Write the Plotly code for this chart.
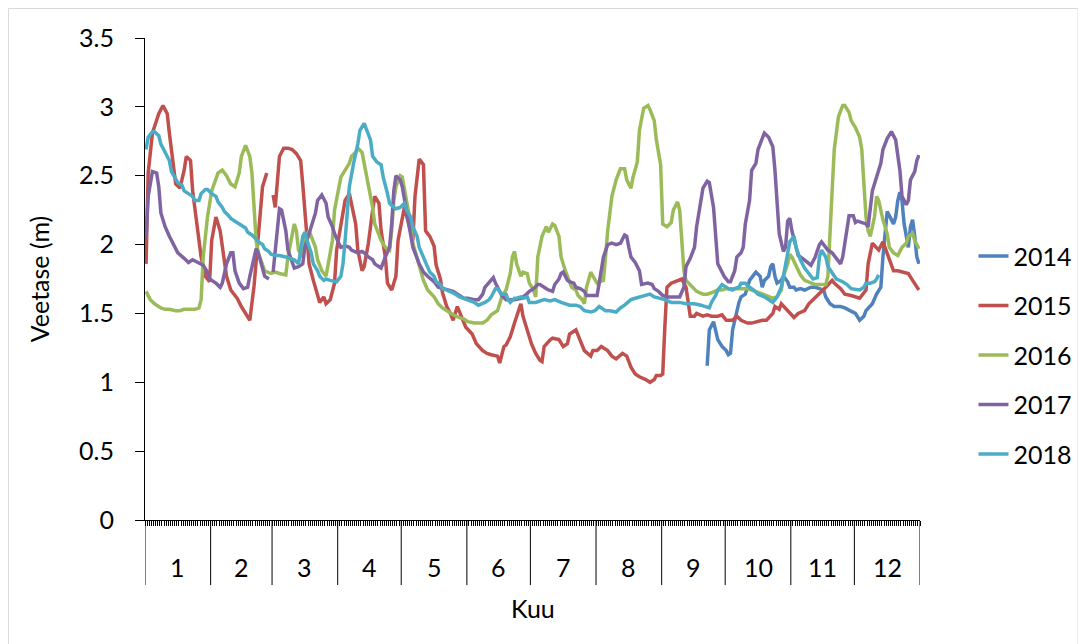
import plotly.graph_objects as go

# day of year (leap-year template, 366 days) and water level in metres
days_2014 = [266, 267, 269, 270, 271, 273, 275, 276, 277, 278, 280, 281, 282, 284, 285, 286, 288, 289,
             291, 292, 293, 295, 296, 297, 298, 299, 301, 302, 304, 305, 307, 308, 310, 312, 315, 317,
             319, 321, 322, 324, 326, 329, 331, 334, 336, 338, 340, 341, 344, 346, 348, 349, 350, 351,
             352, 354, 355, 356, 357, 358, 359, 361, 362, 363, 364, 365, 366]
level_2014 = [1.12, 1.38, 1.44, 1.38, 1.31, 1.26, 1.23, 1.20, 1.21, 1.38, 1.52, 1.58, 1.62, 1.64, 1.69,
              1.74, 1.78, 1.80, 1.77, 1.69, 1.74, 1.77, 1.84, 1.86, 1.77, 1.72, 1.74, 1.77, 1.73, 1.69,
              1.69, 1.67, 1.68, 1.67, 1.69, 1.69, 1.68, 1.67, 1.62, 1.57, 1.55, 1.55, 1.54, 1.52, 1.50,
              1.45, 1.48, 1.52, 1.57, 1.64, 1.69, 1.91, 2.10, 2.24, 2.21, 2.15, 2.20, 2.32, 2.38, 2.32,
              2.15, 1.98, 2.13, 2.18, 2.06, 1.91, 1.86]

days_2015 = [1, 2, 4, 7, 9, 11, 12, 14, 15, 17, 19, 20, 22, 23, 25, 27, 29, 31, 32, 34, 36, 37, 39, 41,
             44, 46, 48, 50, 52, 54, 56, 58, 59, 61, 62, 64, 66, 68, 70, 72, 74, 75, 77, 78, 80, 82, 83,
             85, 86, 88, 90, 91, 93, 95, 97, 98, 100, 101, 103, 104, 106, 108, 109, 111, 112, 114, 115,
             117, 119, 120, 122, 123, 125, 127, 128, 130, 132, 133, 135, 137, 138, 140, 141, 143, 145,
             146, 148, 150, 152, 155, 157, 160, 162, 164, 167, 168, 170, 171, 173, 175, 178, 179, 181,
             183, 185, 187, 188, 189, 192, 193, 196, 198, 200, 201, 204, 206, 208, 211, 212, 214, 216,
             219, 221, 223, 226, 228, 230, 232, 234, 237, 239, 241, 242, 244, 245, 246, 247, 249, 252,
             254, 256, 257, 258, 260, 261, 264, 266, 268, 271, 273, 275, 278, 280, 282, 285, 287, 289,
             292, 294, 297, 298, 300, 301, 304, 306, 307, 309, 312, 314, 316, 319, 321, 322, 325, 326,
             329, 331, 334, 336, 338, 341, 342, 344, 346, 347, 349, 350, 352, 354, 356, 359, 361, 363, 366]
level_2015 = [1.86, 2.52, 2.81, 2.95, 3.01, 2.95, 2.81, 2.56, 2.44, 2.41, 2.54, 2.64, 2.61, 2.39, 2.15,
              1.91, 1.77, 1.73, 2.03, 2.20, 2.10, 1.98, 1.77, 1.67, 1.61, 1.55, 1.50, 1.45, 1.70, 2.10,
              2.42, 2.52, None, 2.36, 2.27, 2.64, 2.70, 2.70, 2.69, 2.66, 2.61, 2.44, 2.10, 1.86, 1.74,
              1.64, 1.58, 1.62, 1.57, 1.60, 1.72, 1.96, 2.15, 2.32, 2.37, 2.30, 2.15, 1.96, 1.81, 1.84,
              2.01, 2.25, 2.35, 2.30, 2.10, 1.91, 1.72, 1.67, 1.77, 2.03, 2.20, 2.27, 2.15, 2.03, 2.35,
              2.62, 2.58, 2.10, 2.06, 1.99, 1.85, 1.75, 1.65, 1.55, 1.49, 1.45, 1.55, 1.47, 1.40, 1.35,
              1.28, 1.23, 1.21, 1.20, 1.19, 1.14, 1.26, 1.27, 1.33, 1.43, 1.57, 1.48, 1.38, 1.28, 1.21,
              1.16, 1.15, 1.26, 1.31, 1.32, 1.31, 1.26, 1.28, 1.35, 1.38, 1.31, 1.23, 1.19, 1.23, 1.23,
              1.26, 1.23, 1.19, 1.17, 1.21, 1.19, 1.11, 1.06, 1.04, 1.02, 1.00, 1.02, 1.05, 1.05, 1.06,
              1.40, 1.69, 1.72, 1.74, 1.75, 1.69, 1.57, 1.48, 1.48, 1.50, 1.48, 1.49, 1.48, 1.48, 1.49,
              1.45, 1.45, 1.48, 1.45, 1.43, 1.43, 1.44, 1.45, 1.45, 1.50, 1.55, 1.53, 1.57, 1.52, 1.48,
              1.47, 1.50, 1.52, 1.57, 1.60, 1.64, 1.67, 1.69, 1.74, 1.72, 1.68, 1.64, 1.63, 1.62, 1.61,
              1.67, 1.86, 2.01, 1.98, 1.96, 2.02, 1.98, 1.89, 1.81, 1.81, 1.80, 1.79, 1.74, 1.67]

days_2016 = [1, 3, 5, 8, 10, 12, 15, 17, 19, 22, 24, 26, 27, 28, 29, 30, 32, 34, 35, 37, 39, 41, 43, 45,
             46, 48, 50, 51, 52, 53, 54, 56, 57, 60, 62, 64, 67, 68, 70, 71, 72, 73, 75, 76, 78, 79, 81,
             82, 84, 86, 87, 89, 90, 92, 93, 95, 97, 98, 100, 101, 103, 104, 106, 108, 109, 111, 112,
             114, 116, 117, 118, 119, 121, 122, 124, 126, 127, 130, 132, 134, 137, 139, 141, 144, 146,
             149, 151, 153, 156, 158, 160, 162, 164, 166, 167, 169, 171, 173, 174, 175, 176, 178, 179,
             181, 182, 184, 185, 186, 188, 190, 191, 193, 194, 196, 197, 199, 201, 202, 204, 205, 207,
             208, 209, 211, 212, 214, 215, 217, 218, 219, 221, 223, 225, 227, 228, 230, 231, 233, 234,
             236, 238, 239, 241, 242, 244, 245, 247, 249, 250, 252, 253, 254, 255, 256, 259, 261, 264,
             266, 268, 271, 273, 275, 278, 280, 282, 285, 287, 289, 292, 294, 297, 299, 301, 302, 304,
             305, 306, 308, 310, 312, 315, 317, 319, 322, 323, 324, 325, 326, 328, 330, 331, 333, 334,
             336, 338, 339, 340, 341, 342, 343, 345, 346, 347, 349, 351, 352, 354, 356, 358, 360, 361,
             363, 364, 366]
level_2016 = [1.66, 1.60, 1.57, 1.54, 1.53, 1.53, 1.52, 1.52, 1.53, 1.53, 1.53, 1.54, 1.60, 1.91, 2.08,
              2.20, 2.39, 2.49, 2.52, 2.54, 2.50, 2.44, 2.42, 2.52, 2.64, 2.72, 2.64, 2.52, 2.27, 2.03,
              1.94, 1.86, 1.81, 1.79, 1.80, 1.79, 1.78, 1.91, 2.08, 2.15, 2.10, 1.96, 1.91, 2.03, 2.10,
              2.06, 1.98, 1.89, 1.81, 1.77, 1.86, 2.03, 2.25, 2.42, 2.49, 2.54, 2.59, 2.64, 2.67, 2.70,
              2.67, 2.59, 2.44, 2.27, 2.15, 2.08, 2.03, 1.98, 1.96, 2.10, 2.32, 2.42, 2.50, 2.49, 2.32,
              2.15, 2.01, 1.84, 1.74, 1.67, 1.62, 1.57, 1.54, 1.51, 1.49, 1.47, 1.46, 1.44, 1.43, 1.43,
              1.43, 1.45, 1.49, 1.51, 1.52, 1.62, 1.67, 1.79, 1.91, 1.95, 1.86, 1.77, 1.80, 1.79, 1.72,
              1.67, 1.62, 1.91, 2.06, 2.13, 2.09, 2.15, 2.14, 2.06, 1.91, 1.81, 1.74, 1.69, 1.67, 1.63,
              1.60, 1.57, 1.69, 1.80, 1.77, 1.72, 1.73, 1.74, 1.91, 2.10, 2.35, 2.47, 2.55, 2.55, 2.47,
              2.41, 2.49, 2.60, 2.83, 2.99, 3.01, 2.98, 2.90, 2.76, 2.58, 2.15, 2.13, 2.16, 2.25, 2.31,
              2.25, 2.03, 1.81, 1.74, 1.69, 1.66, 1.64, 1.64, 1.65, 1.67, 1.67, 1.68, 1.68, 1.68, 1.68,
              1.68, 1.67, 1.66, 1.64, 1.63, 1.61, 1.62, 1.67, 1.77, 1.86, 1.93, 1.91, 1.84, 1.78, 1.74,
              1.72, 1.71, 1.71, 1.71, 1.77, 2.15, 2.39, 2.69, 2.93, 3.01, 3.01, 2.96, 2.90, 2.85, 2.78,
              2.69, 2.44, 2.20, 2.10, 2.06, 2.20, 2.35, 2.32, 2.18, 2.08, 1.98, 1.94, 1.92, 1.98, 2.01,
              2.06, 2.08, 2.03, 1.97]

days_2017 = [1, 2, 3, 4, 6, 7, 8, 10, 12, 14, 16, 19, 21, 23, 26, 28, 30, 31, 34, 36, 37, 39, 41, 42,
             43, 45, 47, 49, 50, 52, 53, 54, 56, 57, 59, 60, 61, 63, 64, 65, 67, 68, 70, 71, 73, 75, 76,
             78, 79, 81, 82, 84, 86, 87, 89, 90, 92, 93, 95, 97, 98, 100, 101, 103, 104, 106, 108, 109,
             111, 112, 114, 116, 117, 118, 119, 121, 122, 124, 126, 127, 130, 132, 134, 137, 139, 141,
             144, 146, 149, 151, 153, 156, 158, 160, 161, 163, 165, 166, 168, 169, 171, 173, 175, 178,
             180, 182, 184, 186, 187, 189, 191, 193, 194, 196, 197, 198, 200, 201, 203, 204, 206, 208,
             209, 211, 214, 215, 217, 219, 221, 223, 225, 227, 228, 229, 230, 232, 234, 235, 237, 238,
             240, 241, 243, 245, 247, 249, 252, 253, 255, 256, 258, 260, 261, 263, 264, 266, 267, 269,
             270, 271, 273, 274, 276, 277, 279, 280, 282, 283, 284, 286, 287, 289, 290, 292, 293, 295,
             297, 298, 299, 300, 302, 303, 304, 305, 306, 308, 309, 311, 314, 315, 317, 319, 320, 322,
             323, 325, 327, 329, 330, 332, 333, 335, 336, 337, 339, 341, 342, 343, 344, 346, 348, 349,
             351, 353, 355, 357, 358, 360, 361, 362, 364, 365, 366]
level_2017 = [2.05, 2.35, 2.44, 2.53, 2.52, 2.42, 2.23, 2.13, 2.06, 2.00, 1.94, 1.90, 1.87, 1.89, 1.87,
              1.85, 1.80, 1.75, 1.72, 1.69, 1.72, 1.86, 1.94, 1.94, 1.81, 1.72, 1.68, 1.69, 1.77, 1.91,
              1.97, 1.94, 1.81, 1.77, 1.75, None, 1.80, 2.15, 2.26, 2.25, 2.10, 1.96, 1.86, 1.83, 1.84,
              1.86, 1.98, 2.08, 2.13, 2.23, 2.32, 2.36, 2.30, 2.20, 2.13, 2.08, 2.01, 1.98, 1.99, 1.98,
              1.96, 1.95, 1.94, 1.95, 1.94, 1.91, 1.89, 1.86, 1.84, 1.83, 1.91, 1.98, 2.15, 2.39, 2.50,
              2.47, 2.42, 2.25, 2.10, 1.98, 1.86, 1.80, 1.77, 1.73, 1.69, 1.68, 1.67, 1.66, 1.63, 1.61,
              1.61, 1.60, 1.60, 1.64, 1.69, 1.73, 1.76, 1.72, 1.66, 1.63, 1.60, 1.60, 1.60, 1.61, 1.63,
              1.66, 1.68, 1.71, 1.71, 1.69, 1.67, 1.66, 1.71, 1.75, 1.79, 1.80, 1.74, 1.73, 1.72, 1.69,
              1.68, 1.66, 1.63, 1.63, 1.63, 1.72, 1.91, 2.00, 2.01, 2.00, 2.01, 2.07, 2.06, 1.98, 1.91,
              1.87, 1.81, 1.71, 1.72, 1.72, 1.71, 1.68, 1.66, 1.63, 1.62, 1.62, 1.62, 1.62, 1.69, 1.84,
              1.90, 1.98, 2.13, 2.30, 2.41, 2.46, 2.45, 2.27, 2.08, 1.86, 1.80, 1.77, 1.73, 1.73, 1.81,
              1.91, 1.94, 1.98, 2.15, 2.32, 2.54, 2.59, 2.69, 2.78, 2.81, 2.78, 2.71, 2.54, 2.32, 2.08,
              1.95, 1.98, 2.17, 2.19, 2.10, 1.98, 1.92, 1.90, 1.86, 1.85, 1.91, 2.00, 2.02, 1.98, 1.96,
              1.94, 1.90, 1.86, 1.91, 2.10, 2.21, 2.21, 2.16, 2.17, 2.16, 2.15, 2.13, 2.27, 2.39, 2.49,
              2.59, 2.69, 2.77, 2.82, 2.76, 2.54, 2.35, 2.29, 2.32, 2.47, 2.53, 2.61, 2.65]

days_2018 = [1, 2, 4, 5, 7, 8, 10, 12, 13, 15, 16, 18, 19, 21, 23, 24, 26, 27, 29, 30, 32, 34, 35, 37,
             38, 40, 41, 43, 45, 46, 48, 49, 51, 53, 54, 56, 57, 59, 60, 62, 64, 67, 69, 71, 73, 74, 75,
             76, 77, 79, 80, 82, 83, 85, 86, 88, 90, 91, 93, 94, 95, 96, 97, 99, 101, 102, 104, 105, 107,
             108, 110, 112, 113, 115, 116, 118, 119, 121, 123, 124, 126, 127, 129, 130, 132, 134, 135,
             137, 138, 140, 141, 143, 145, 146, 149, 151, 153, 156, 158, 160, 161, 163, 164, 166, 167,
             169, 171, 172, 173, 175, 176, 178, 179, 181, 182, 185, 187, 189, 192, 194, 197, 199, 201,
             204, 206, 208, 211, 213, 215, 218, 220, 223, 225, 227, 230, 232, 234, 237, 239, 241, 244,
             246, 249, 251, 253, 256, 258, 260, 263, 265, 267, 268, 270, 271, 273, 275, 276, 278, 279,
             281, 282, 284, 286, 288, 290, 293, 295, 297, 299, 301, 302, 303, 304, 305, 307, 308, 310,
             312, 314, 316, 318, 319, 320, 322, 323, 325, 327, 330, 332, 334, 337, 338, 340, 341, 343,
             345, 346, 347]
level_2018 = [2.69, 2.78, 2.82, 2.82, 2.79, 2.73, 2.67, 2.61, 2.53, 2.47, 2.45, 2.43, 2.39, 2.37, 2.35,
              2.32, 2.32, 2.37, 2.40, 2.40, 2.37, 2.35, 2.31, 2.27, 2.24, 2.21, 2.19, 2.17, 2.15, 2.14,
              2.12, 2.09, 2.07, 2.04, 2.02, 2.00, 1.97, 1.95, 1.93, 1.92, 1.92, 1.91, 1.90, 1.89, 1.86,
              1.96, 2.06, 2.09, 2.03, 1.94, 1.86, 1.81, 1.77, 1.74, 1.75, 1.74, 1.73, 1.73, 1.77, 1.86,
              2.03, 2.20, 2.42, 2.59, 2.73, 2.83, 2.88, 2.84, 2.76, 2.64, 2.60, 2.58, 2.49, 2.37, 2.30,
              2.27, 2.26, 2.27, 2.30, 2.25, 2.20, 2.13, 2.06, 1.98, 1.91, 1.85, 1.80, 1.77, 1.73, 1.71,
              1.68, 1.67, 1.66, 1.65, 1.62, 1.61, 1.60, 1.58, 1.56, 1.57, 1.58, 1.60, 1.62, 1.68, 1.68,
              1.64, 1.64, 1.60, 1.58, 1.61, 1.61, 1.62, 1.61, 1.62, 1.58, 1.58, 1.59, 1.60, 1.59, 1.60,
              1.58, 1.57, 1.56, 1.56, 1.55, 1.52, 1.51, 1.52, 1.55, 1.52, 1.52, 1.51, 1.54, 1.56, 1.60,
              1.61, 1.62, 1.63, 1.64, 1.62, 1.61, 1.60, 1.58, 1.58, 1.58, 1.57, 1.57, 1.57, 1.56, 1.55,
              1.54, 1.58, 1.63, 1.67, 1.71, 1.69, 1.68, 1.67, 1.68, 1.69, 1.72, 1.72, 1.69, 1.67, 1.64,
              1.62, 1.60, 1.58, 1.62, 1.69, 1.77, 1.86, 1.96, 2.02, 2.06, 1.98, 1.89, 1.83, 1.79, 1.75,
              1.76, 1.91, 1.96, 1.91, 1.84, 1.79, 1.75, 1.73, 1.71, 1.68, 1.67, 1.67, 1.69, 1.72, 1.72,
              1.73, 1.75, 1.78]

years = ["2014", "2015", "2016", "2017", "2018"]
colors = ["#4F81BD", "#C0504D", "#9BBB59", "#8064A2", "#4BACC6"]
month_labels = ["1", "2", "3", "4", "5", "6", "7", "8", "9", "10", "11", "12"]
month_lengths = [31, 29, 31, 30, 31, 30, 31, 31, 30, 31, 30, 31]

series = [
    (days_2014, level_2014),
    (days_2015, level_2015),
    (days_2016, level_2016),
    (days_2017, level_2017),
    (days_2018, level_2018),
]

FONT = "Lato, Open Sans, sans-serif"
FS = 25

fig = go.Figure()
for name, color, (xs, ys) in zip(years, colors, series):
    fig.add_trace(go.Scatter(
        x=xs, y=ys, name=name, legendgroup=name, mode="lines",
        line=dict(color=color, width=3.5),
    ))

# month boundaries and centres on the day axis
bounds = [0.5]
for n in month_lengths:
    bounds.append(bounds[-1] + n)
centres = [(a + b) / 2 for a, b in zip(bounds[:-1], bounds[1:])]

shapes = []
for b in bounds:
    shapes.append(dict(type="line", xref="x", yref="paper", x0=b, x1=b, y0=0, y1=-0.135,
                       line=dict(color="black", width=1)))
# outer chart border
shapes.append(dict(type="rect", xref="paper", yref="paper", x0=-0.1762, x1=1.2039, y0=1.0612, y1=-0.27,
                   line=dict(color="#d9d9d9", width=1)))

annotations = []
for c, lab in zip(centres, month_labels):
    annotations.append(dict(x=c, y=-0.0975, xref="x", yref="paper", text=lab, showarrow=False,
                            xanchor="center", yanchor="middle", font=dict(family=FONT, size=FS, color="black")))
annotations.append(dict(x=0.5, y=-0.183, xref="paper", yref="paper", text="Kuu", showarrow=False,
                        xanchor="center", yanchor="middle", font=dict(family=FONT, size=FS, color="black")))

fig.update_layout(
    width=1086, height=644,
    margin=dict(l=137, r=174, t=30, b=132),
    paper_bgcolor="white", plot_bgcolor="white",
    font=dict(family=FONT, size=FS, color="black"),
    showlegend=True,
    legend=dict(x=1.069, y=0.342, xanchor="left", yanchor="middle", tracegroupgap=14,
                font=dict(family=FONT, size=FS, color="black"), bgcolor="rgba(0,0,0,0)"),
    shapes=shapes,
    annotations=annotations,
)
fig.update_xaxes(
    range=[0.5, 366.5], showgrid=False, zeroline=False,
    showline=True, linecolor="black", linewidth=1,
    tickmode="linear", tick0=0.5, dtick=1, ticks="outside", ticklen=5, tickcolor="black",
    showticklabels=False,
)
fig.update_yaxes(
    range=[0, 3.5], dtick=0.5, showgrid=False, zeroline=False,
    showline=True, linecolor="black", linewidth=1,
    ticks="outside", ticklen=9, tickcolor="black", ticklabelstandoff=16,
    tickfont=dict(family=FONT, size=FS, color="black"),
    title=dict(text="Veetase (m)", standoff=22, font=dict(family=FONT, size=FS, color="black")),
)

fig.write_html("out.html")
